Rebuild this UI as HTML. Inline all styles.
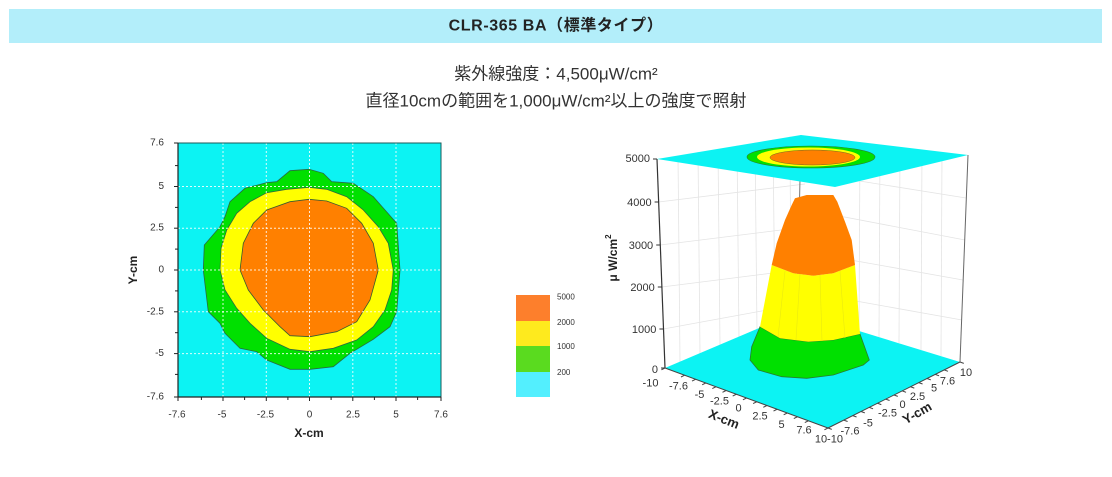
<!DOCTYPE html>
<html><head><meta charset="utf-8">
<style>
html,body{margin:0;padding:0;background:#fff;}
body{width:1112px;height:477px;overflow:hidden;}
svg{display:block;}
.jp{font-family:"Liberation Sans","Noto Sans CJK JP",sans-serif;}
.t{font-family:"Liberation Sans",sans-serif;}
</style></head><body>
<svg width="1112" height="477" viewBox="0 0 1112 477" xmlns="http://www.w3.org/2000/svg">
<!-- header -->
<rect x="9" y="9" width="1093" height="34" fill="#b3eefa"/>
<text class="jp" x="556" y="26" text-anchor="middle" dominant-baseline="central" font-size="16" font-weight="bold" fill="#222" letter-spacing="0.6">CLR-365 BA（標準タイプ）</text>
<text class="jp" x="556" y="74" text-anchor="middle" dominant-baseline="central" font-size="17" fill="#333">紫外線強度：4,500μW/cm²</text>
<text class="jp" x="556" y="101" text-anchor="middle" dominant-baseline="central" font-size="17" fill="#333">直径10cmの範囲を1,000μW/cm²以上の強度で照射</text>

<!-- ===== 2D contour ===== -->
<rect x="178" y="143" width="263" height="254" fill="#0cf3f3"/>
<polygon fill="#00e000" stroke="#2a6a40" stroke-width="0.8" points="309,169.3 290,170.7 276.7,181.7 266.7,182.7 245,188.3 230,201.7 225,216.7 220,226.7 204.3,245 203.3,270 208.3,311.7 220,323.3 225,333.3 240,348.3 256.7,351.7 266.7,360 290,369.3 310,369.3 333.3,366.7 350,353.3 373.3,339.3 390,326.7 396.7,311.7 400,270 396.7,223.3 373.3,196.7 353.3,183.3 331.7,181.7 323.3,173.3"/>
<polygon fill="#ffff00" stroke="#2a6a40" stroke-width="0.8" points="309,187.3 286.7,189.3 266.7,192.7 250,201.7 236.7,213.3 226.7,230 221,248.3 220,270 225,290 236.7,308.3 250,323.3 266.7,338.3 290,349.3 310,351.7 333.3,348.3 356.7,340 373.3,326.7 385,310 391.7,290 393.3,270 388.3,243.3 378.3,226.7 363.3,210 346.7,196.7 326.7,189.3"/>
<polygon fill="#ff8000" stroke="#3a5a30" stroke-width="0.8" points="309,199.3 290,201.7 266.7,210 253.3,223.3 243.3,243.3 240,270 248.3,290 263.3,310 280,326.7 290,335.7 310,336.7 336.7,331.7 356.7,321.7 370,300 378.3,270 373.3,243.3 361.7,223.3 346.7,208.3 326.7,201"/>
<g stroke="#ffffff" stroke-opacity="0.85" stroke-width="1" stroke-dasharray="2,2">
<line x1="223" y1="143" x2="223" y2="397"/><line x1="266.3" y1="143" x2="266.3" y2="397"/><line x1="309.5" y1="143" x2="309.5" y2="397"/><line x1="352.8" y1="143" x2="352.8" y2="397"/><line x1="396" y1="143" x2="396" y2="397"/>
<line x1="178" y1="186.5" x2="441" y2="186.5"/><line x1="178" y1="228.2" x2="441" y2="228.2"/><line x1="178" y1="270" x2="441" y2="270"/><line x1="178" y1="311.8" x2="441" y2="311.8"/><line x1="178" y1="353.6" x2="441" y2="353.6"/>
</g>
<rect x="178" y="143" width="263" height="254" fill="none" stroke="#1e5a5a" stroke-width="1"/>
<line x1="178" y1="143" x2="178" y2="397.5" stroke="#222" stroke-width="1.2"/>
<line x1="177.5" y1="397" x2="441" y2="397" stroke="#222" stroke-width="1.2"/>
<g stroke="#222" stroke-width="1">
<line x1="174" y1="143" x2="178" y2="143"/><line x1="175" y1="165.6" x2="178" y2="165.6"/><line x1="174" y1="186.5" x2="178" y2="186.5"/><line x1="175" y1="207.4" x2="178" y2="207.4"/><line x1="174" y1="228.2" x2="178" y2="228.2"/><line x1="175" y1="249.1" x2="178" y2="249.1"/><line x1="174" y1="270" x2="178" y2="270"/><line x1="175" y1="290.9" x2="178" y2="290.9"/><line x1="174" y1="311.8" x2="178" y2="311.8"/><line x1="175" y1="332.7" x2="178" y2="332.7"/><line x1="174" y1="353.6" x2="178" y2="353.6"/><line x1="175" y1="374.4" x2="178" y2="374.4"/><line x1="174" y1="397" x2="178" y2="397"/>
<line x1="178" y1="397" x2="178" y2="401"/><line x1="201.4" y1="397" x2="201.4" y2="400"/><line x1="223" y1="397" x2="223" y2="401"/><line x1="244.6" y1="397" x2="244.6" y2="400"/><line x1="266.3" y1="397" x2="266.3" y2="401"/><line x1="287.9" y1="397" x2="287.9" y2="400"/><line x1="309.5" y1="397" x2="309.5" y2="401"/><line x1="331.1" y1="397" x2="331.1" y2="400"/><line x1="352.8" y1="397" x2="352.8" y2="401"/><line x1="374.4" y1="397" x2="374.4" y2="400"/><line x1="396" y1="397" x2="396" y2="401"/><line x1="417.6" y1="397" x2="417.6" y2="400"/><line x1="441" y1="397" x2="441" y2="401"/>
</g>
<g class="t" font-size="10" fill="#333" text-anchor="end" dominant-baseline="central">
<text x="164" y="143">7.6</text><text x="164" y="186.5">5</text><text x="164" y="228.2">2.5</text><text x="164" y="270">0</text><text x="164" y="311.8">-2.5</text><text x="164" y="353.6">-5</text><text x="164" y="397">-7.6</text>
</g>
<g class="t" font-size="10" fill="#333" text-anchor="middle" dominant-baseline="central">
<text x="177" y="415">-7.6</text><text x="222" y="415">-5</text><text x="265.5" y="415">-2.5</text><text x="309.5" y="415">0</text><text x="353" y="415">2.5</text><text x="396" y="415">5</text><text x="441" y="415">7.6</text>
</g>
<text class="t" x="309" y="433" text-anchor="middle" dominant-baseline="central" font-size="12" font-weight="bold" fill="#222">X-cm</text>
<text class="t" x="0" y="0" transform="translate(133,270) rotate(-90)" text-anchor="middle" dominant-baseline="central" font-size="12" font-weight="bold" fill="#222">Y-cm</text>

<!-- legend -->
<rect x="516" y="295" width="34" height="26" fill="#fd7f2c"/>
<rect x="516" y="321" width="34" height="25" fill="#feea1e"/>
<rect x="516" y="346" width="34" height="26" fill="#5adb1f"/>
<rect x="516" y="372" width="34" height="25" fill="#53effe"/>
<g class="t" font-size="8" fill="#333" dominant-baseline="central">
<text x="557" y="297">5000</text><text x="557" y="322.5">2000</text><text x="557" y="346.5">1000</text><text x="557" y="372.5">200</text>
</g>

<!-- ===== 3D chart ===== -->
<!-- wall gridlines -->
<g stroke="#e4e4e4" stroke-width="0.8" fill="none">
<line x1="658.6" y1="202" x2="805" y2="184"/>
<line x1="660.2" y1="245" x2="805" y2="227"/>
<line x1="661.8" y1="287" x2="805" y2="269"/>
<line x1="663.4" y1="329" x2="800" y2="304"/>
<line x1="678" y1="155.5" x2="680" y2="362"/>
<line x1="698" y1="152" x2="700" y2="354"/>
<line x1="718" y1="149" x2="720" y2="346"/>
<line x1="737" y1="145.5" x2="739" y2="339"/>
<line x1="755" y1="142.5" x2="757" y2="331"/>
<line x1="773" y1="139.5" x2="775" y2="323"/>
<line x1="790" y1="136.5" x2="791" y2="316"/>
<line x1="800" y1="171.5" x2="966" y2="198"/>
<line x1="800" y1="208.5" x2="965" y2="240"/>
<line x1="800" y1="251" x2="963" y2="280"/>
<line x1="800" y1="291" x2="962" y2="320"/>
<line x1="860" y1="142" x2="859" y2="331"/>
<line x1="880" y1="144.5" x2="879" y2="337"/>
<line x1="900" y1="147" x2="899" y2="343"/>
<line x1="922" y1="149.5" x2="921" y2="350"/>
<line x1="942" y1="152" x2="941" y2="356"/>
</g>
<!-- back vertical -->
<line x1="801" y1="135" x2="797" y2="312" stroke="#777" stroke-width="1"/>
<!-- floor -->
<polygon points="665,368 797,312 960,362 828,428" fill="#0cf3f3"/>
<!-- axes verticals -->
<line x1="657" y1="159" x2="665" y2="368" stroke="#333" stroke-width="1.2"/>
<line x1="968" y1="155" x2="960" y2="362" stroke="#666" stroke-width="1"/>
<!-- cone -->
<polygon fill="#00e000" stroke="#2a7a30" stroke-width="0.8" points="760,326.7 780,338.3 808.3,341.7 833.3,340 860,334 869.3,360 863.3,365 833.3,375 806.7,378.3 781.7,376.7 758.3,370 750,360 751.7,346.7"/>
<polygon fill="#ffff00" points="771.7,265 793.3,273.3 813.3,275.7 833.3,273.3 855,265 860,334 833.3,340 808.3,341.7 780,338.3 760,326.7"/>
<g stroke="#eaea10" stroke-width="0.6">
<line x1="785" y1="271" x2="778" y2="337"/><line x1="800" y1="274" x2="796" y2="340"/><line x1="820" y1="275" x2="822" y2="341"/><line x1="840" y1="271" x2="845" y2="338"/>
</g>
<polygon fill="#ff8000" points="795,198.3 806.7,195 833.3,195 837.3,201.7 845,221.7 851.7,240 855,265 833.3,273.3 813.3,275.7 793.3,273.3 771.7,265 776.7,243.3 785,220 791.7,205"/>
<!-- top plane -->
<polygon points="657,159 801,135 968,155 835,187" fill="#0cf3f3"/>
<ellipse cx="811" cy="157" rx="64" ry="11" fill="#00e000" stroke="#2a7a30" stroke-width="0.6"/>
<ellipse cx="808.5" cy="157" rx="51.5" ry="9.5" fill="#ffff00"/>
<ellipse cx="812.5" cy="157.5" rx="42.5" ry="7.5" fill="#ff8000" stroke="#6a6a20" stroke-width="0.5"/>
<!-- z ticks -->
<g stroke="#333" stroke-width="1">
<line x1="653" y1="159" x2="657" y2="159"/><line x1="654.6" y1="202" x2="658.6" y2="202"/><line x1="656.2" y1="245" x2="660.2" y2="245"/><line x1="657.8" y1="287" x2="661.8" y2="287"/><line x1="659.4" y1="329" x2="663.4" y2="329"/><line x1="661" y1="368" x2="665" y2="368"/>
</g>
<g class="t" font-size="11" fill="#333" text-anchor="end" dominant-baseline="central">
<text x="650" y="159">5000</text><text x="651.6" y="203">4000</text><text x="653.2" y="246">3000</text><text x="654.8" y="288">2000</text><text x="656.4" y="330">1000</text><text x="658" y="370">0</text>
</g>
<text class="t" x="0" y="0" transform="translate(613,258) rotate(-90)" text-anchor="middle" dominant-baseline="central" font-size="12" font-weight="bold" fill="#222">μ W/cm<tspan font-size="8" dy="-5">2</tspan></text>
<!-- floor axes -->
<line x1="665" y1="368" x2="828" y2="428" stroke="#444" stroke-width="1"/>
<line x1="828" y1="428" x2="960" y2="362" stroke="#444" stroke-width="1"/>
<g stroke="#444" stroke-width="1">
<line x1="665" y1="368" x2="661.4" y2="369.8"/><line x1="684.6" y1="375.2" x2="681" y2="377"/><line x1="695.6" y1="379.3" x2="692" y2="381.1"/><line x1="705.75" y1="383" x2="702.15" y2="384.8"/><line x1="715.9" y1="386.75" x2="712.3" y2="388.55"/><line x1="726.1" y1="390.5" x2="722.5" y2="392.3"/><line x1="736.3" y1="394.25" x2="732.7" y2="396.05"/><line x1="746.5" y1="398" x2="742.9" y2="399.8"/><line x1="756.7" y1="401.75" x2="753.1" y2="403.55"/><line x1="766.9" y1="405.5" x2="763.3" y2="407.3"/><line x1="777.1" y1="409.25" x2="773.5" y2="411.05"/><line x1="787.25" y1="413" x2="783.65" y2="414.8"/><line x1="797.4" y1="416.75" x2="793.8" y2="418.55"/><line x1="808.4" y1="420.8" x2="804.8" y2="422.6"/><line x1="828" y1="428" x2="824.4" y2="429.8"/>
<line x1="828" y1="428" x2="831.8" y2="429.4"/><line x1="843.8" y1="420.1" x2="847.6" y2="421.5"/><line x1="852.75" y1="415.6" x2="856.55" y2="417"/><line x1="861" y1="411.5" x2="864.8" y2="412.9"/><line x1="869.25" y1="407.4" x2="873.05" y2="408.8"/><line x1="877.5" y1="403.25" x2="881.3" y2="404.65"/><line x1="885.75" y1="399.1" x2="889.55" y2="400.5"/><line x1="894" y1="395" x2="897.8" y2="396.4"/><line x1="902.25" y1="390.9" x2="906.05" y2="392.3"/><line x1="910.5" y1="386.75" x2="914.3" y2="388.15"/><line x1="918.75" y1="382.6" x2="922.55" y2="384"/><line x1="927" y1="378.5" x2="930.8" y2="379.9"/><line x1="935.25" y1="374.4" x2="939.05" y2="375.8"/><line x1="944.2" y1="369.9" x2="948" y2="371.3"/><line x1="960" y1="362" x2="963.8" y2="363.4"/>
</g>
<g class="t" font-size="11" fill="#333" text-anchor="middle" dominant-baseline="central">
<text x="650.5" y="383.5">-10</text><text x="678.5" y="386.5">-7.6</text><text x="699.5" y="395">-5</text><text x="719.5" y="401.5">-2.5</text><text x="738.5" y="408.5">0</text><text x="760" y="416.5">2.5</text><text x="781.5" y="425">5</text><text x="804" y="430.5">7.6</text><text x="821" y="439.5">10</text>
<text x="835" y="439.5">-10</text><text x="850" y="431.5">-7.6</text><text x="868" y="423.5">-5</text><text x="887.5" y="413.5">-2.5</text><text x="902.5" y="405">0</text><text x="917.5" y="397">2.5</text><text x="934" y="388.5">5</text><text x="947.5" y="381.5">7.6</text><text x="966" y="373">10</text>
</g>
<text class="t" x="0" y="0" transform="translate(724,419) rotate(22)" text-anchor="middle" dominant-baseline="central" font-size="13" font-weight="bold" fill="#222">X-cm</text>
<text class="t" x="0" y="0" transform="translate(917,413) rotate(-30)" text-anchor="middle" dominant-baseline="central" font-size="13" font-weight="bold" fill="#222">Y-cm</text>
</svg>
</body></html>
